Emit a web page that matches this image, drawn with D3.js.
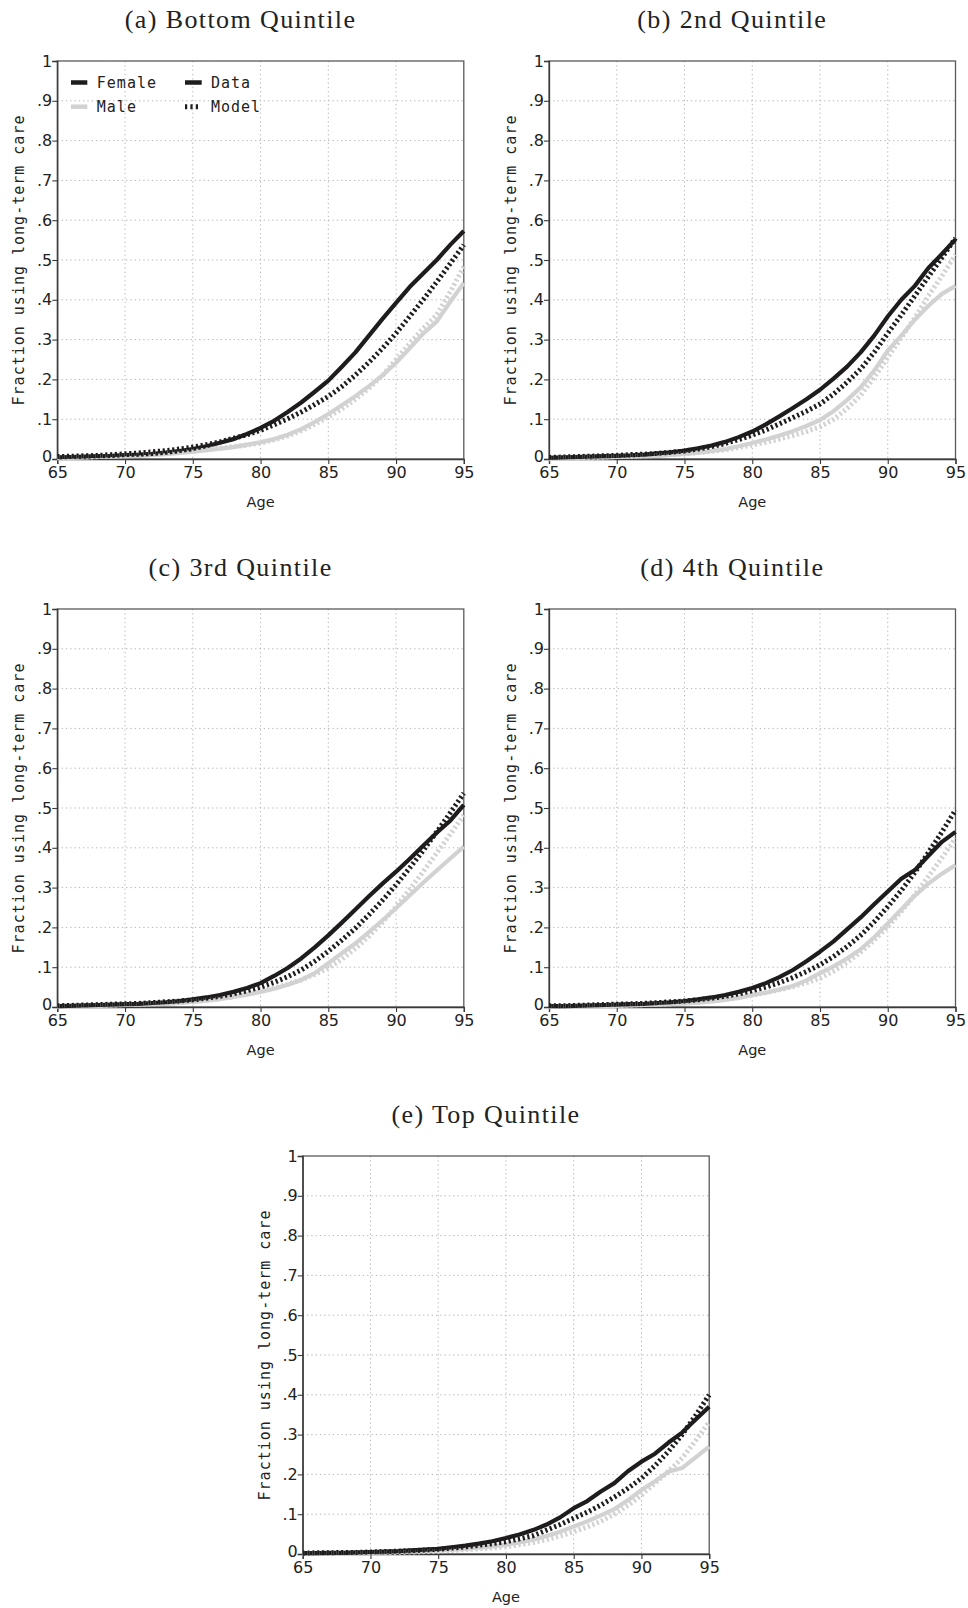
<!DOCTYPE html>
<html>
<head>
<meta charset="utf-8">
<script src="https://cdn.jsdelivr.net/npm/d3@7"></script>
<style>
  html, body { margin: 0; padding: 0; background: #fff; }
  svg { display: block; }
</style>
</head>
<body>
<svg id="chart" width="968" height="1608"></svg>
<script>
// ---------- DATA ----------
const ages = [65,66,67,68,69,70,71,72,73,74,75,76,77,78,79,80,81,82,83,84,85,86,87,88,89,90,91,92,93,94,95];
const xTicks = [65,70,75,80,85,90,95];
const yTicks = [0,0.1,0.2,0.3,0.4,0.5,0.6,0.7,0.8,0.9,1];
const yTickLabels = ["0",".1",".2",".3",".4",".5",".6",".7",".8",".9","1"];
const panelTitles = ["(a) Bottom Quintile","(b) 2nd Quintile","(c) 3rd Quintile","(d) 4th Quintile","(e) Top Quintile"];
const yLabel = "Fraction using long-term care";
const xLabel = "Age";
const legendSex = ["Female","Male"];
const legendType = ["Data","Model"];

// Bottom quintile
const femData_a  = [.004,.005,.006,.007,.008,.010,.011,.013,.016,.020,.025,.032,.041,.050,.063,.078,.096,.118,.142,.169,.197,.232,.268,.310,.352,.392,.432,.466,.500,.538,.573];
const femModel_a = [.006,.007,.008,.009,.011,.013,.015,.018,.021,.025,.030,.036,.043,.052,.061,.072,.086,.101,.118,.137,.157,.182,.211,.243,.278,.316,.358,.400,.445,.491,.538];
const maleData_a = [.002,.003,.004,.005,.006,.007,.008,.010,.012,.015,.018,.022,.026,.030,.036,.042,.050,.061,.075,.093,.113,.135,.158,.183,.210,.242,.278,.315,.345,.395,.442];
const maleModel_a= [.003,.004,.005,.006,.007,.008,.010,.012,.014,.017,.020,.023,.027,.031,.035,.040,.048,.058,.071,.087,.106,.126,.150,.178,.210,.250,.290,.328,.362,.420,.483];
// 2nd quintile
const femData_b  = [.003,.004,.005,.006,.007,.008,.009,.011,.014,.017,.021,.027,.034,.043,.055,.069,.087,.107,.128,.150,.174,.202,.232,.268,.310,.358,.400,.435,.480,.515,.552];
const femModel_b = [.004,.005,.006,.007,.008,.009,.011,.012,.014,.017,.020,.025,.031,.039,.049,.060,.073,.088,.104,.120,.138,.163,.193,.226,.268,.316,.362,.410,.458,.506,.555];
const maleData_b = [.002,.002,.003,.004,.004,.005,.006,.007,.008,.010,.013,.016,.020,.025,.032,.040,.049,.059,.070,.083,.098,.120,.148,.180,.222,.272,.310,.350,.385,.415,.435];
const maleModel_b= [.002,.003,.003,.004,.005,.006,.007,.008,.009,.011,.013,.016,.019,.023,.029,.035,.042,.050,.059,.069,.081,.100,.127,.160,.205,.255,.305,.355,.410,.460,.513];
// 3rd quintile
const femData_c  = [.002,.003,.004,.005,.006,.007,.008,.010,.012,.015,.019,.024,.030,.038,.048,.060,.078,.098,.122,.150,.180,.212,.245,.278,.310,.340,.372,.405,.438,.468,.508];
const femModel_c = [.003,.004,.005,.006,.007,.008,.009,.011,.013,.015,.018,.022,.027,.033,.041,.050,.062,.076,.093,.115,.140,.168,.198,.232,.268,.307,.349,.393,.440,.488,.537];
const maleData_c = [.001,.002,.002,.003,.004,.005,.006,.007,.008,.010,.013,.016,.020,.025,.031,.038,.046,.056,.068,.085,.110,.135,.160,.188,.218,.248,.280,.312,.343,.373,.403];
const maleModel_c= [.002,.002,.003,.004,.005,.006,.007,.008,.009,.011,.014,.017,.021,.026,.032,.040,.048,.057,.068,.082,.098,.120,.147,.178,.213,.252,.295,.340,.387,.434,.482];
// 4th quintile
const femData_d  = [.002,.002,.003,.004,.005,.006,.007,.008,.010,.012,.015,.019,.024,.030,.038,.048,.060,.075,.093,.115,.139,.165,.195,.225,.258,.290,.322,.344,.380,.415,.440];
const femModel_d = [.003,.003,.004,.005,.006,.007,.008,.009,.011,.013,.015,.018,.022,.027,.033,.041,.050,.061,.074,.089,.106,.127,.152,.180,.214,.252,.293,.338,.388,.440,.495];
const maleData_d = [.001,.001,.002,.002,.003,.003,.004,.005,.006,.007,.009,.011,.014,.018,.023,.030,.036,.044,.053,.067,.085,.102,.122,.145,.175,.210,.245,.280,.310,.335,.357];
const maleModel_d= [.001,.002,.002,.003,.003,.004,.005,.006,.007,.008,.010,.012,.015,.019,.024,.030,.036,.043,.051,.061,.072,.090,.112,.138,.168,.202,.240,.282,.328,.375,.424];
// Top quintile
const femData_e  = [.002,.002,.003,.003,.004,.005,.006,.007,.009,.011,.013,.017,.021,.026,.032,.040,.049,.060,.074,.092,.115,.133,.157,.178,.208,.232,.252,.280,.305,.338,.370];
const femModel_e = [.002,.003,.003,.004,.004,.005,.006,.007,.008,.010,.012,.015,.018,.022,.026,.031,.038,.046,.060,.074,.090,.105,.123,.143,.165,.190,.222,.258,.300,.348,.400];
const maleData_e = [.001,.001,.002,.002,.003,.003,.004,.005,.006,.007,.009,.011,.013,.016,.019,.023,.029,.036,.045,.056,.069,.082,.097,.113,.135,.161,.183,.207,.216,.243,.270];
const maleModel_e= [.001,.001,.002,.002,.002,.003,.003,.004,.005,.006,.007,.009,.011,.013,.015,.018,.023,.029,.036,.045,.056,.068,.082,.100,.122,.148,.178,.208,.241,.285,.332];

const panelSeries = [
  {fd: femData_a, fm: femModel_a, md: maleData_a, mm: maleModel_a},
  {fd: femData_b, fm: femModel_b, md: maleData_b, mm: maleModel_b},
  {fd: femData_c, fm: femModel_c, md: maleData_c, mm: maleModel_c},
  {fd: femData_d, fm: femModel_d, md: maleData_d, mm: maleModel_d},
  {fd: femData_e, fm: femModel_e, md: maleData_e, mm: maleModel_e}
];

// ---------- LAYOUT ----------
const W = 406.5, H = 398;
const origins = [[57.3, 61], [549, 61], [57.3, 609], [549, 609], [302.7, 1156]];
const BLACK = "#1e1c1d", GRAY = "#d2d2d2";
const serif = "'Liberation Serif', 'Times New Roman', serif";
const sans = "'DejaVu Sans', Verdana, sans-serif";
const mono = "'DejaVu Sans Mono', monospace";

const svg = d3.select("#chart");

panelTitles.forEach((title, i) => {
  const [ox, oy] = origins[i];
  const s = panelSeries[i];
  const g = svg.append("g").attr("transform", `translate(${ox},${oy})`);
  const x = d3.scaleLinear().domain([65, 95]).range([0, W]);
  const y = d3.scaleLinear().domain([0, 1]).range([H, 0]);

  // grid
  g.append("g").selectAll("line").data(xTicks.slice(1, -1)).join("line")
    .attr("x1", d => x(d)).attr("x2", d => x(d)).attr("y1", 0).attr("y2", H)
    .attr("stroke", "#b4b4b4").attr("stroke-width", 1).attr("stroke-dasharray", "1.3,3");
  g.append("g").selectAll("line").data(yTicks.slice(1, -1)).join("line")
    .attr("y1", d => y(d)).attr("y2", d => y(d)).attr("x1", 0).attr("x2", W)
    .attr("stroke", "#b4b4b4").attr("stroke-width", 1).attr("stroke-dasharray", "1.3,3");

  // frame
  g.append("rect").attr("x", 0).attr("y", 0).attr("width", W).attr("height", H)
    .attr("fill", "none").attr("stroke", "#5a5a5a").attr("stroke-width", 1.3);

  // axes
  const xAxis = g.append("g").attr("transform", `translate(0,${H})`)
    .call(d3.axisBottom(x).tickValues(xTicks).tickSize(5).tickPadding(2).tickFormat(d3.format("d")));
  const yAxis = g.append("g")
    .call(d3.axisLeft(y).tickValues(yTicks).tickSize(5).tickPadding(0).tickFormat((d, j) => yTickLabels[j]));
  [xAxis, yAxis].forEach(a => {
    a.select(".domain").attr("stroke", "#3a3a3a").attr("stroke-width", 1.3);
    a.selectAll(".tick line").attr("stroke", "#3a3a3a").attr("stroke-width", 1.1);
    a.selectAll(".tick text").attr("fill", "#222").style("font-family", sans).style("font-size", "16px");
  });
  xAxis.selectAll(".tick text").attr("dy", "0.71em").attr("y", 8);
  yAxis.selectAll(".tick text").filter(d => d === 0).attr("dy", "0.15em");

  // axis titles
  g.append("text").attr("x", W / 2).attr("y", H + 48).attr("text-anchor", "middle")
    .style("font-family", sans).style("font-size", "14.5px").attr("fill", "#222").text(xLabel);
  g.append("text").attr("transform", `translate(-33,${H / 2}) rotate(-90)`).attr("text-anchor", "middle")
    .style("font-family", mono).style("font-size", "15px").style("letter-spacing", "1px")
    .attr("fill", "#222").text(yLabel);

  // panel title
  svg.append("text").attr("x", ox + W / 2 - 20).attr("y", oy - 33).attr("text-anchor", "middle")
    .style("font-family", serif).style("font-size", "26px").style("letter-spacing", "1.4px")
    .attr("fill", "#222").text(title);

  // lines
  const line = d3.line().x((d, j) => x(ages[j])).y(d => y(d));
  const draw = (arr, color, dotted) => {
    g.append("path").datum(arr).attr("d", line).attr("fill", "none")
      .attr("stroke", color).attr("stroke-width", dotted ? 5 : 4.2)
      .attr("stroke-dasharray", dotted ? "2.2,2.6" : null)
      .attr("stroke-linejoin", "round");
  };
  draw(s.md, GRAY, false);
  draw(s.fd, BLACK, false);
  draw(s.mm, GRAY, true);
  draw(s.fm, BLACK, true);

  // legend in first panel
  if (i === 0) {
    const lg = g.append("g");
    const rows = [21.5, 45.7];
    legendSex.forEach((name, r) => {
      lg.append("line").attr("x1", 13.7).attr("x2", 30).attr("y1", rows[r]).attr("y2", rows[r])
        .attr("stroke", r === 0 ? BLACK : GRAY).attr("stroke-width", 4.5);
      lg.append("text").attr("x", 39.5).attr("y", rows[r] + 5).style("font-family", mono)
        .style("font-size", "15px").style("letter-spacing", "1px").attr("fill", "#222").text(name);
    });
    legendType.forEach((name, r) => {
      lg.append("line").attr("x1", 127.7).attr("x2", r === 0 ? 144.4 : 142.5).attr("y1", rows[r]).attr("y2", rows[r])
        .attr("stroke", BLACK).attr("stroke-width", r === 0 ? 4.5 : 5)
        .attr("stroke-dasharray", r === 0 ? null : "2.2,3.2");
      lg.append("text").attr("x", 153.7).attr("y", rows[r] + 5).style("font-family", mono)
        .style("font-size", "15px").style("letter-spacing", "1px").attr("fill", "#222").text(name);
    });
  }
});
</script>
</body>
</html>
